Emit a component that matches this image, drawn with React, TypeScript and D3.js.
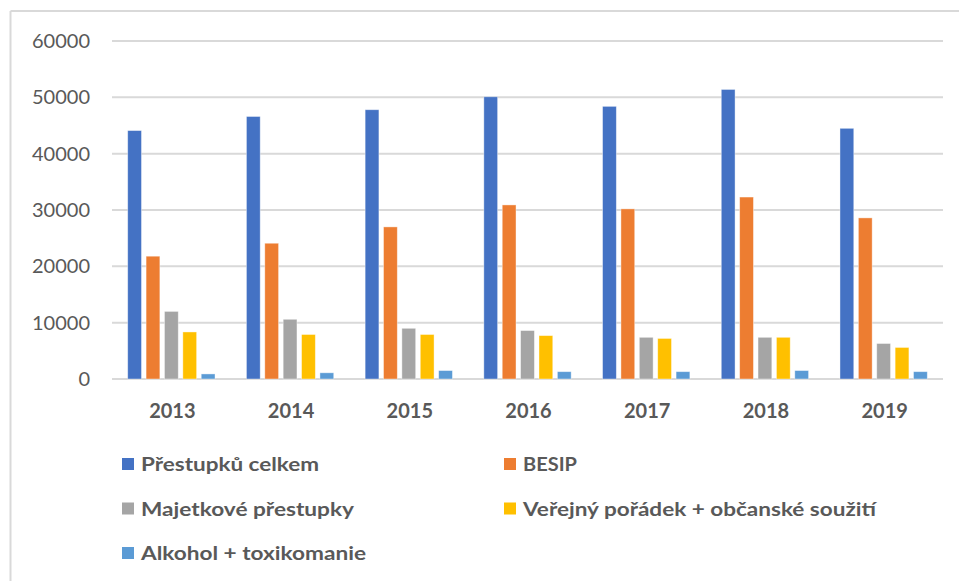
import React from "react";
import * as d3 from "d3";

const years = ["2013", "2014", "2015", "2016", "2017", "2018", "2019"];
const seriesNames = [
  "Přestupků celkem",
  "BESIP",
  "Majetkové přestupky",
  "Veřejný pořádek + občanské soužití",
  "Alkohol + toxikomanie",
];
const celkem = [44100, 46600, 47800, 50100, 48400, 51400, 44500];
const besip = [21800, 24100, 27000, 30900, 30200, 32300, 28600];
const majetkove = [12000, 10600, 9000, 8600, 7400, 7400, 6300];
const verejny = [8350, 7900, 7900, 7700, 7200, 7400, 5600];
const alkohol = [900, 1100, 1500, 1300, 1300, 1500, 1300];
const yTicks = [0, 10000, 20000, 30000, 40000, 50000, 60000];

const seriesValues = [celkem, besip, majetkove, verejny, alkohol];
const colors = ["#4472C4", "#ED7D31", "#A5A5A5", "#FFC000", "#5B9BD5"];
const legendWidths = [178, 54, 213, 353, 225];

const W = 959;
const H = 581;
const plotLeft = 112;
const plotRight = 943;
const plotTop = 41;
const plotBottom = 379;
const textColor = "#595959";
const font = "Lato, 'Open Sans', sans-serif";

export default function App() {
  const x = d3
    .scaleBand<string>()
    .domain(years)
    .range([plotLeft, plotRight])
    .paddingInner(0.2645)
    .paddingOuter(0.2645 / 2);
  const xs = d3
    .scaleBand<string>()
    .domain(seriesNames)
    .range([0, x.bandwidth()])
    .paddingInner(0.25)
    .paddingOuter(0);
  const y = d3.scaleLinear().domain([0, 60000]).range([plotBottom, plotTop]);

  const legendCols = [122, 504];
  const legendRows = [464, 508.5, 553];

  return (
    <svg
      width={W}
      height={H}
      style={{ position: "absolute", left: 0, top: 0, background: "#fff" }}
    >
      <rect x={0} y={0} width={W} height={H} fill="#fff" />
      {/* frame */}
      <line x1={10.5} y1={11} x2={W} y2={11} stroke="#d9d9d9" strokeWidth={2} />
      <line x1={10.5} y1={11} x2={10.5} y2={H} stroke="#d9d9d9" strokeWidth={2} />

      {/* gridlines */}
      {yTicks.map((t) => (
        <line
          key={t}
          x1={plotLeft}
          x2={plotRight}
          y1={y(t)}
          y2={y(t)}
          stroke="#d9d9d9"
          strokeWidth={2}
        />
      ))}
      {/* y labels */}
      {yTicks.map((t) => (
        <text
          key={"l" + t}
          x={90}
          y={y(t) + 7}
          textAnchor="end"
          fontFamily={font}
          fontSize={20}
          fill={textColor}
        >
          {t}
        </text>
      ))}

      {/* bars */}
      {years.map((yr, i) => (
        <g key={yr} transform={`translate(${x(yr)},0)`}>
          {seriesNames.map((s, j) => {
            const v = seriesValues[j][i];
            return (
              <rect
                key={s}
                x={xs(s)}
                y={y(v)}
                width={xs.bandwidth()}
                height={y(0) - y(v)}
                fill={colors[j]}
                stroke="#ffffff"
                strokeOpacity={0.5}
                strokeWidth={0.8}
              />
            );
          })}
        </g>
      ))}

      {/* x labels */}
      {years.map((yr) => (
        <text
          key={"x" + yr}
          x={(x(yr) as number) + x.bandwidth() / 2 + 1}
          y={417.5}
          textAnchor="middle"
          fontFamily={font}
          fontSize={20}
          fontWeight="bold"
          fill={textColor}
        >
          {yr}
        </text>
      ))}

      {/* legend */}
      {seriesNames.map((s, i) => {
        const cx = legendCols[i % 2];
        const cy = legendRows[Math.floor(i / 2)];
        return (
          <g key={"lg" + s}>
            <rect x={cx} y={cy - 6} width={12} height={12} fill={colors[i]} />
            <text
              x={cx + 19}
              y={cy + 7}
              fontFamily={font}
              fontSize={19.5}
              fontWeight="bold"
              fill={textColor}
              textLength={legendWidths[i]}
              lengthAdjust="spacingAndGlyphs"
            >
              {s}
            </text>
          </g>
        );
      })}
    </svg>
  );
}
